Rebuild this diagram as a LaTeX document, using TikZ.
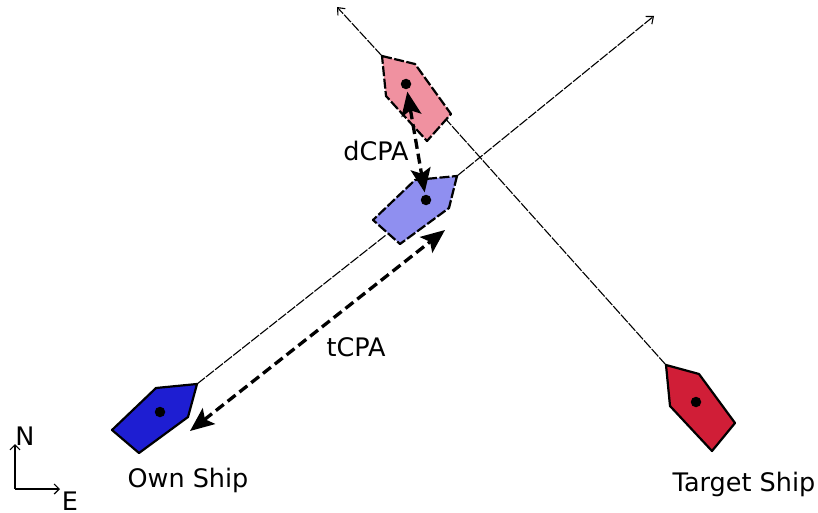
\documentclass[tikz,border=0pt]{standalone}
\usepackage{fontspec}
\setmainfont{DejaVu Sans}
\usetikzlibrary{arrows.meta}
\definecolor{ownc}{RGB}{30,30,210}
\definecolor{ownl}{RGB}{143,143,240}
\definecolor{tarc}{RGB}{208,30,55}
\definecolor{tarl}{RGB}{240,145,160}
\tikzset{
  x=1pt,y=-1pt,
  shipsolid/.style={draw=black,line width=2.2pt,line join=round},
  shipdash/.style={draw=black,line width=2.2pt,dash pattern=on 10pt off 2.5pt,line join=round},
  track/.style={draw=black,line width=1.1pt,dash pattern=on 10pt off 1.5pt},
  trackend/.style={track,-{Straight Barb[length=6pt,width=10pt,line width=1.1pt]}},
  measure/.style={draw=black,line width=3.3pt,dash pattern=on 10pt off 5pt,{Stealth[length=24pt,width=20pt,inset=5pt]}-{Stealth[length=24pt,width=20pt,inset=5pt]}},
  dot/.style={circle,fill=black,inner sep=0pt,minimum size=10.5pt,outer sep=2.5pt},
  lab/.style={inner sep=0pt,font=\fontsize{25.5pt}{30pt}\selectfont},
  axis/.style={draw=black,line width=1.2pt,-{Straight Barb[length=5pt,width=10pt,line width=1.2pt]}}
}
\begin{document}
\begin{tikzpicture}
\useasboundingbox (0,0) rectangle (818,513);
% named points
\coordinate (ownbow) at (197,384);
\coordinate (ownlstern) at (386,235);
\coordinate (ownlbow) at (457,176);
\coordinate (ownend) at (654,16);
\coordinate (tarbow) at (666,365);
\coordinate (tarlstern) at (443,116);
\coordinate (tarlbow) at (382,56);
\coordinate (tarend) at (337,7);
\coordinate (o) at (15,489);
\coordinate (n) at (15,444);
\coordinate (e) at (60,489);
\coordinate (tcpaA) at (190,431);
\coordinate (tcpaB) at (445,230);
% tracks
\draw[track] (ownbow) -- (ownlstern);
\draw[trackend] (ownlbow) -- (ownend);
\draw[track] (tarbow) -- (tarlstern);
\draw[trackend] (tarlbow) -- (tarend);
% ships
\draw[shipdash,fill=tarl] (382,56) -- (415,64) -- (451,114) -- (427,141) -- (386,96) -- cycle;
\draw[shipdash,fill=ownl] (457,176) -- (449,208) -- (400,244) -- (373,220) -- (415,180) -- cycle;
\draw[shipsolid,fill=ownc] (197,384) -- (188,417) -- (139,453) -- (112,430) -- (156,388) -- cycle;
\draw[shipsolid,fill=tarc] (666,365) -- (699,374) -- (735,423) -- (712,451) -- (670,406) -- cycle;
% dots
\node[dot] (tarldot) at (406,84) {};
\node[dot] (ownldot) at (426,200) {};
\node[dot] (owndot) at (160,412) {};
\node[dot] (tardot) at (696,402) {};
% measures
\draw[measure] (tarldot) -- (ownldot);
\draw[measure] (tcpaA) -- (tcpaB);
% axes
\draw[axis] (o) -- (n);
\draw[axis] (o) -- (e);
% labels
\node[lab] (ln) at (25,436) {N};
\node[lab] (le) at (70,501.5) {E};
\node[lab] (dcpa) at (376,150.5) {dCPA};
\node[lab] (tcpa) at (356,347.5) {tCPA};
\node[lab] (ownl) at (188,480) {Own Ship};
\node[lab] (tarl) at (744,484) {Target Ship};
\end{tikzpicture}
\end{document}
